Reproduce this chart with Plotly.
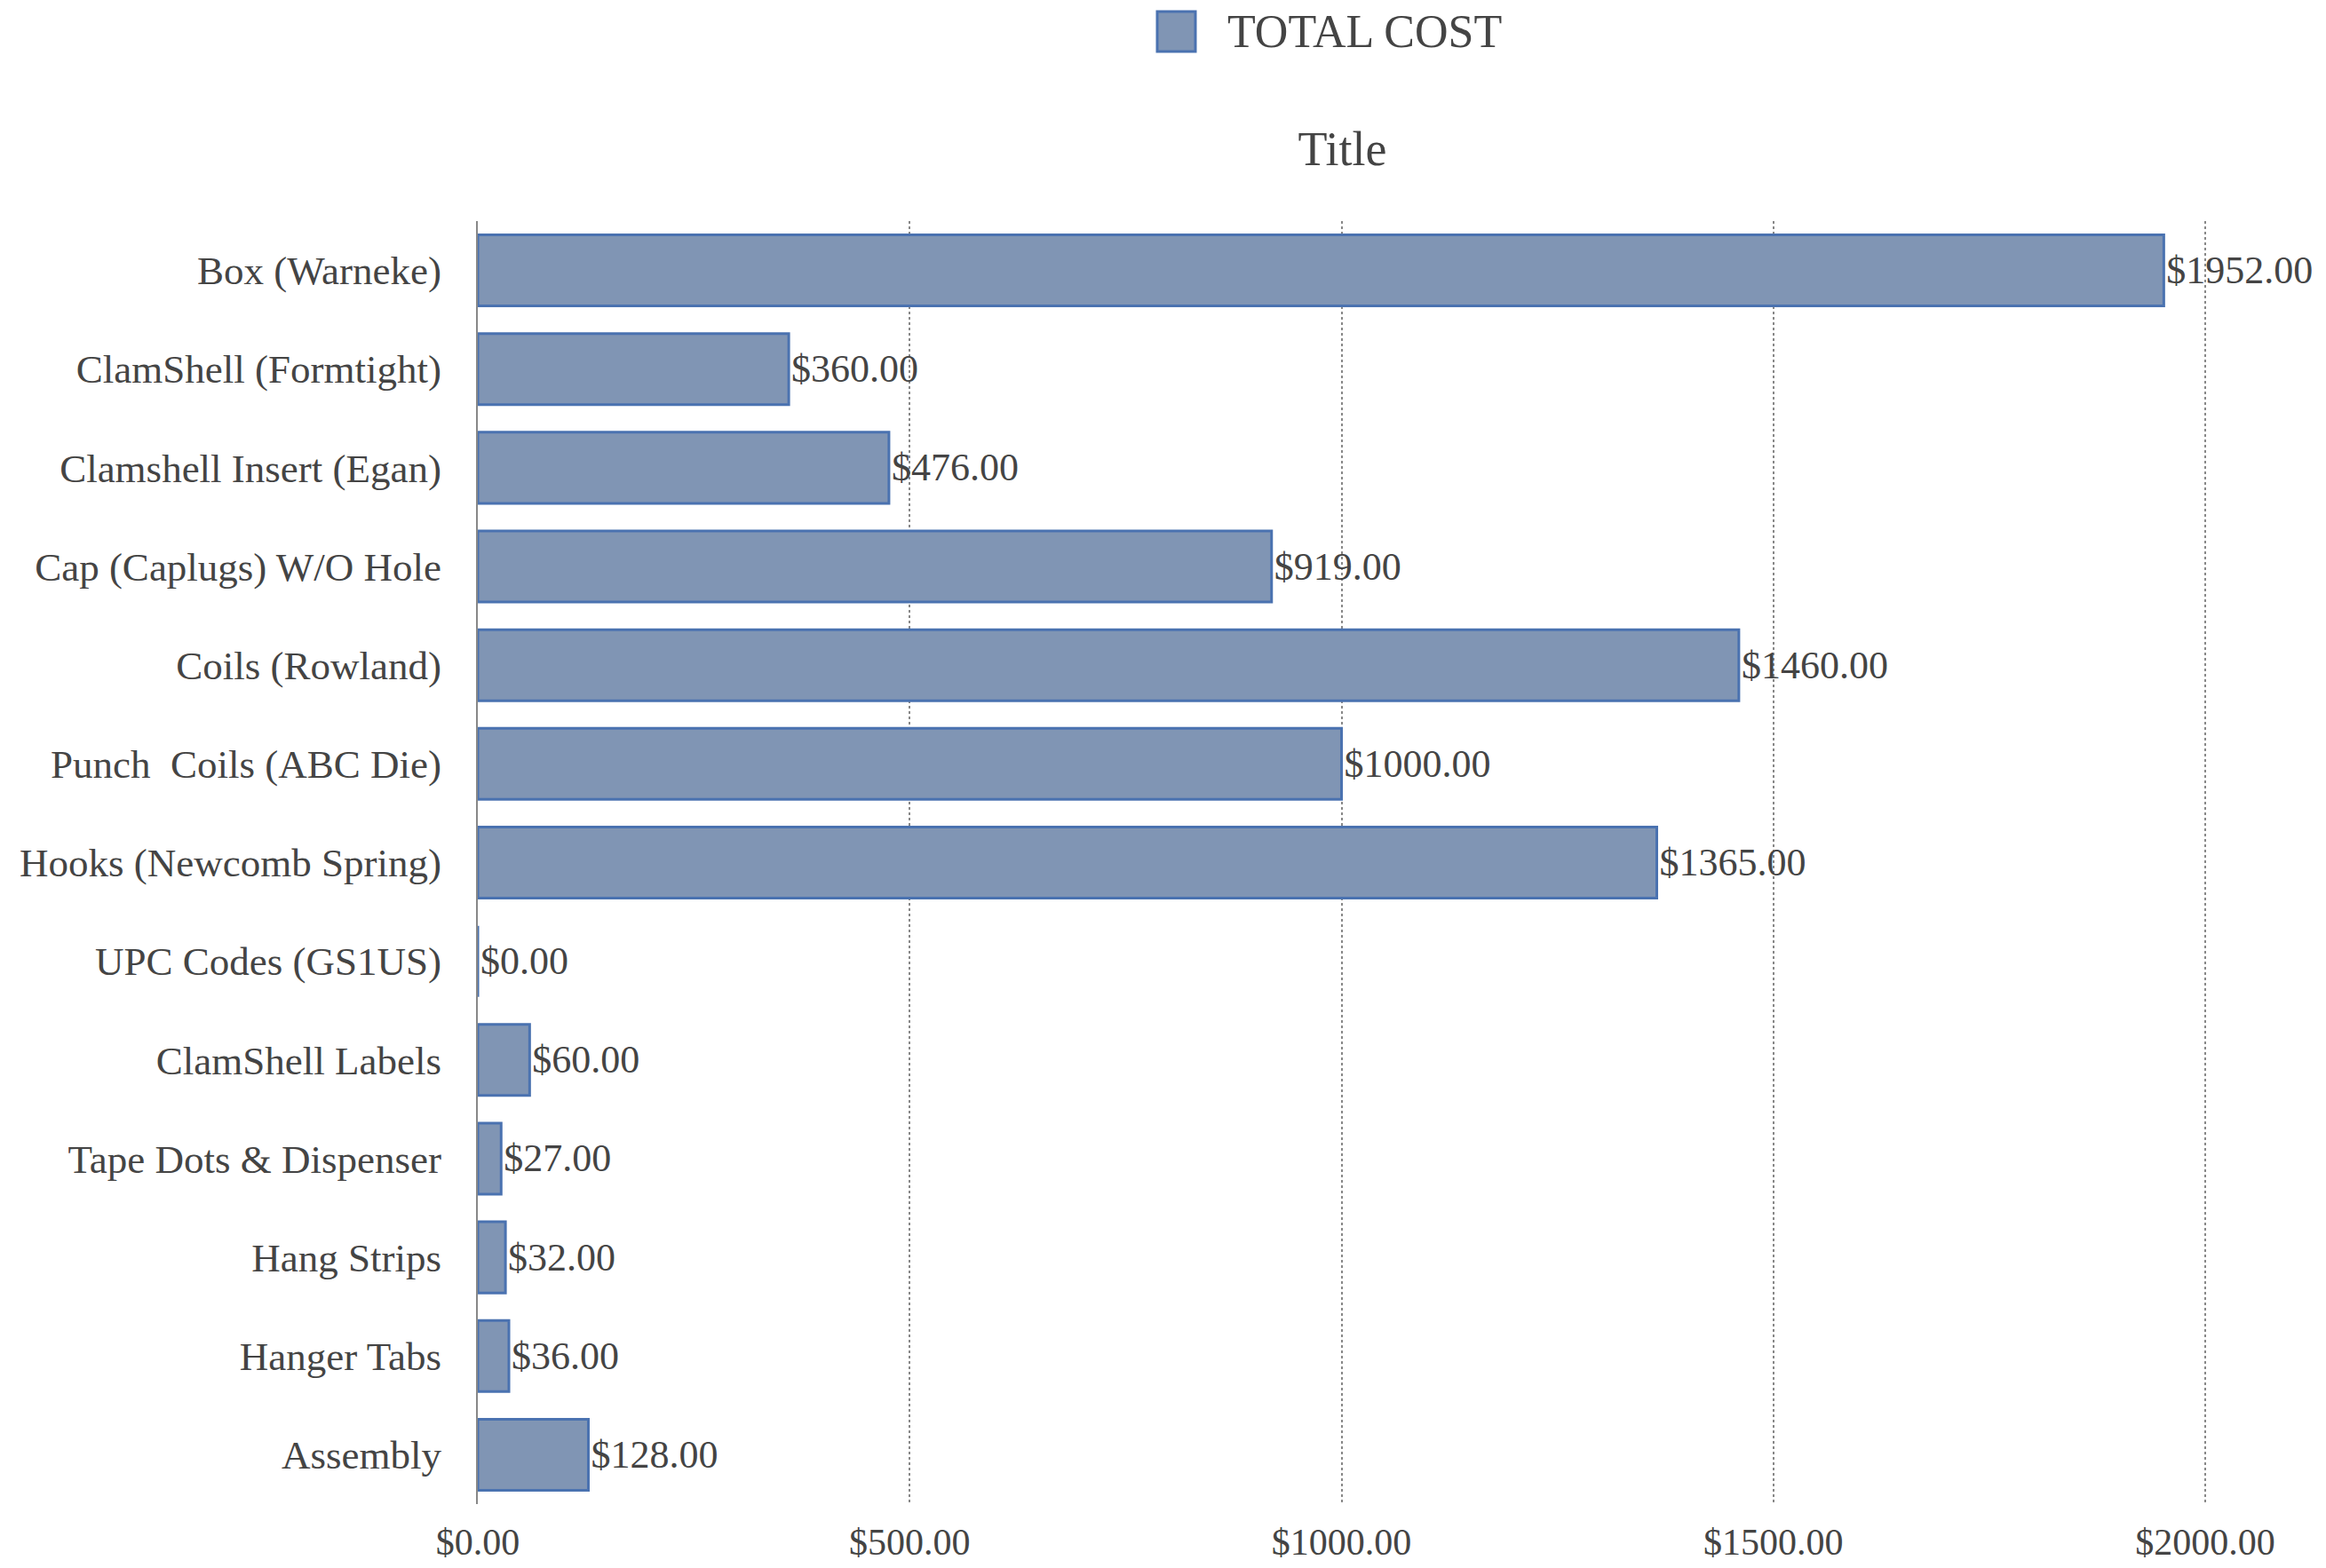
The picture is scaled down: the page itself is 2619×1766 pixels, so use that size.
import plotly.graph_objects as go

categories = [
    "Box (Warneke)",
    "ClamShell (Formtight)",
    "Clamshell Insert (Egan)",
    "Cap (Caplugs) W/O Hole",
    "Coils (Rowland)",
    "Punch  Coils (ABC Die)",
    "Hooks (Newcomb Spring)",
    "UPC Codes (GS1US)",
    "ClamShell Labels",
    "Tape Dots & Dispenser",
    "Hang Strips",
    "Hanger Tabs",
    "Assembly",
]
total_cost = [1952, 360, 476, 919, 1460, 1000, 1365, 0, 60, 27, 32, 36, 128]
series_name = "TOTAL COST"
chart_title = "Title"

W, H = 2619, 1766
ML, MR, MT, MB = 538, 134, 249, 72
FONT = "Liberation Serif, Times New Roman, serif"
TXT = "#444444"
FILL = "rgb(128,149,180)"
EDGE = "rgb(74,114,176)"

fig = go.Figure()
fig.add_trace(go.Bar(
    y=categories, x=total_cost, orientation="h", name=series_name,
    marker=dict(color=FILL, line=dict(color=EDGE, width=3)),
    texttemplate="$%{x:.2f}", textposition="outside", cliponaxis=False,
    constraintext="none",
    textfont=dict(family=FONT, size=44, color=TXT),
    showlegend=False,
))

pw = W - ML - MR
ph = H - MT - MB
def px_x(p):
    return (p - ML) / pw
def px_y(p):
    return (H - MB - p) / ph

# legend drawn as a box + label
fig.add_shape(type="rect", xref="paper", yref="paper",
              x0=px_x(1303), x1=px_x(1346), y0=px_y(58), y1=px_y(13),
              fillcolor=FILL, line=dict(color=EDGE, width=3))
fig.add_annotation(xref="paper", yref="paper", x=px_x(1380), y=px_y(36),
                   text=series_name, showarrow=False, xanchor="left", yanchor="middle",
                   font=dict(family=FONT, size=52, color=TXT))

fig.update_layout(
    width=W, height=H,
    margin=dict(l=ML, r=MR, t=MT, b=MB),
    paper_bgcolor="white", plot_bgcolor="white",
    bargap=0.28,
    title=dict(text=chart_title, x=0.5, xref="paper", xanchor="center",
               y=1 - 167 / H, yref="container", yanchor="middle",
               font=dict(family=FONT, size=54, color=TXT)),
    font=dict(family=FONT, color=TXT),
    xaxis=dict(range=[0, 2002], dtick=500, tick0=0, tickformat="$.2f",
               showgrid=True, gridcolor="#888888", gridwidth=2, griddash="dot",
               zeroline=False, showline=False, ticks="", automargin=False,
               ticklabelstandoff=14,
               tickfont=dict(family=FONT, size=42, color=TXT)),
    yaxis=dict(autorange="reversed", showgrid=False, zeroline=False,
               showline=True, linecolor="#888888", linewidth=2, ticks="",
               automargin=False, ticklabelstandoff=30,
               tickfont=dict(family=FONT, size=45, color=TXT)),
)

fig.write_html("out.html", config={"displayModeBar": False},
               post_script="document.body.style.margin='0';")
